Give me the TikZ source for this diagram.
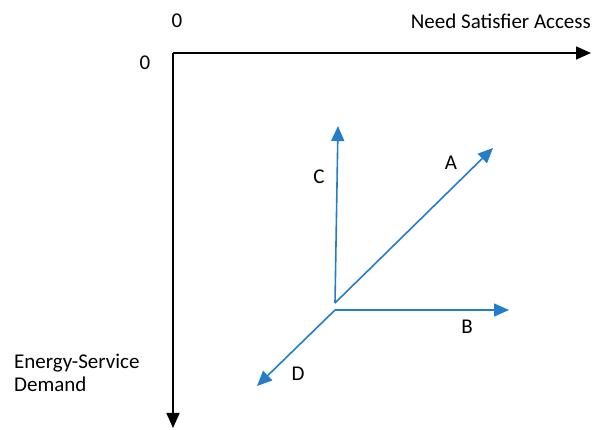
\documentclass[tikz,border=0pt]{standalone}
\usepackage{fontspec}
\setmainfont{Carlito}
\usetikzlibrary{arrows.meta}
\definecolor{arrblue}{RGB}{35,125,200}
\begin{document}
\begin{tikzpicture}[x=1pt,y=-1pt,
  axis/.style={line width=1.6pt,-{Triangle[length=15pt,width=13pt]}},
  vec/.style={line width=1.6pt,draw=arrblue,-{Triangle[length=15pt,width=13pt]},color=arrblue},
  lbl/.style={font=\fontsize{21}{23.5}\selectfont,inner sep=0pt}]
\useasboundingbox (0,0) rectangle (598,430);
\coordinate (O) at (173,53);
\coordinate (X) at (591,53);
\coordinate (Y) at (173,428);
\draw[axis] (O) -- (X);
\draw[axis] (O) -- (Y);
\node[lbl] (z1) at (177,21) {0};
\node[lbl] (z2) at (145,63) {0};
\node[lbl,anchor=east] (nsa) at (591,21) {Need Satisfier Access};
\node[lbl,anchor=west,align=left] (esd) at (14,373) {Energy-Service\\Demand};
\coordinate (P) at (335,303);
\coordinate (Q) at (335,310);
\coordinate (Ct) at (338,126);
\coordinate (At) at (493,148);
\coordinate (Bt) at (509,310);
\coordinate (Dt) at (257,386);
\draw[vec] (P) -- (Ct);
\draw[vec] (P) -- (At);
\draw[vec] (Q) -- (Bt);
\draw[vec] (Q) -- (Dt);
\node[lbl] (C) at (319,177) {C};
\node[lbl] (A) at (451,163) {A};
\node[lbl] (B) at (467,327) {B};
\node[lbl] (D) at (298,374) {D};
\end{tikzpicture}
\end{document}
